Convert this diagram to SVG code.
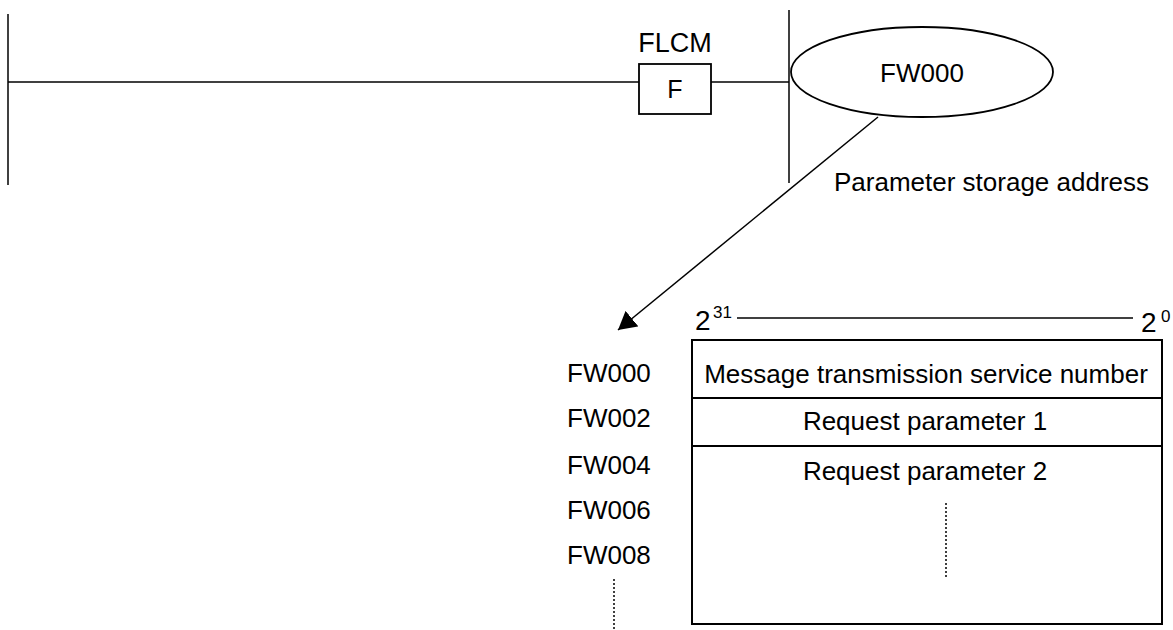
<svg xmlns="http://www.w3.org/2000/svg" width="1173" height="630" viewBox="0 0 1173 630">
<style>
.t{font-family:"Liberation Sans",Arial,sans-serif;font-size:26px;fill:#000}
.ln{stroke:#000;stroke-width:1.5;fill:none}
.bx{stroke:#000;stroke-width:2;fill:#fff}
.dot{stroke:#000;stroke-width:1.5;stroke-dasharray:2,2;fill:none}
</style>
<defs>
<marker id="ah" markerUnits="userSpaceOnUse" markerWidth="18" markerHeight="20" refX="18" refY="10" orient="auto">
<path d="M0,0 L18,10 L0,20 z" fill="#000"/>
</marker>
</defs>
<g id="rails">
<line class="ln" x1="8" y1="14" x2="8" y2="185"/>
<line class="ln" x1="789" y1="10" x2="789" y2="183"/>
</g>
<g id="connectors">
<line class="ln" x1="8" y1="82" x2="639" y2="82"/>
<line class="ln" x1="711" y1="82" x2="789" y2="82"/>
<line class="ln" x1="878" y1="117" x2="618" y2="330" marker-end="url(#ah)"/>
</g>
<g id="flcm">
<text class="t" x="675" y="52" text-anchor="middle" style="font-size:27px">FLCM</text>
<rect class="bx" x="639" y="64" width="72" height="50" style="stroke-width:1.8"/>
<text class="t" x="675" y="98" text-anchor="middle" style="font-size:25px">F</text>
</g>
<g id="fw000-ellipse">
<ellipse class="ln" cx="922" cy="72" rx="131" ry="45" style="fill:#fff;stroke-width:1.8"/>
<text class="t" x="922" y="82" text-anchor="middle">FW000</text>
</g>
<g id="param-label">
<text class="t" x="834" y="191">Parameter storage address</text>
</g>
<g id="bit-range">
<text class="t" x="695" y="330" style="font-size:28px">2</text>
<text class="t" x="713" y="318" style="font-size:17px">31</text>
<line class="ln" x1="737" y1="318" x2="1133" y2="318"/>
<text class="t" x="1141" y="332" style="font-size:28px">2</text>
<text class="t" x="1161" y="322" style="font-size:17px">0</text>
</g>
<g id="addresses">
<text class="t" x="567" y="382">FW000</text>
<text class="t" x="567" y="427">FW002</text>
<text class="t" x="567" y="474">FW004</text>
<text class="t" x="567" y="519">FW006</text>
<text class="t" x="567" y="564">FW008</text>
<line class="dot" x1="614" y1="579" x2="614" y2="630"/>
</g>
<g id="param-table">
<rect class="bx" x="692" y="340" width="470" height="284"/>
<line class="bx" x1="692" y1="398" x2="1162" y2="398"/>
<line class="bx" x1="692" y1="446" x2="1162" y2="446"/>
<text class="t" x="926" y="383" text-anchor="middle">Message transmission service number</text>
<text class="t" x="925" y="430" text-anchor="middle">Request parameter 1</text>
<text class="t" x="925" y="480" text-anchor="middle">Request parameter 2</text>
<line class="dot" x1="946" y1="503" x2="946" y2="577"/>
</g>
</svg>
